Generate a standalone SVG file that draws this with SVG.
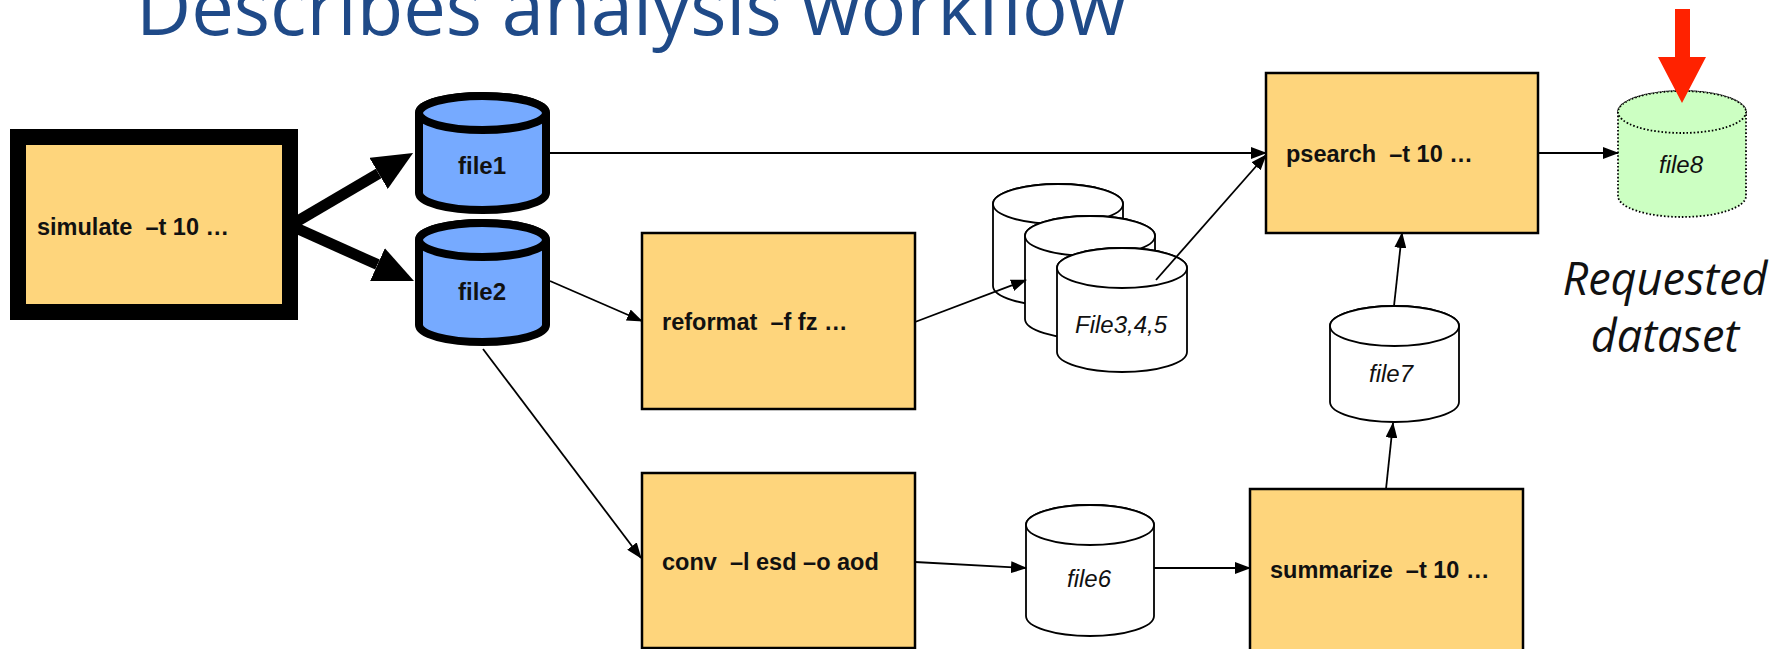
<svg xmlns="http://www.w3.org/2000/svg" width="1781" height="649" viewBox="0 0 1781 649">
  <defs>
    <style>
      .title { font-family: "Open Sans", "Liberation Sans", sans-serif; font-size: 76px; fill: #1F4A88; }
      .task { fill: #FED57C; stroke: #000; stroke-width: 2.5; }
      .cmd { font-family: "Liberation Sans", Arial, sans-serif; font-size: 23.5px; font-weight: bold; fill: #111; white-space: pre; }
      .blue { fill: #76AAFF; stroke: #000; stroke-width: 8; }
      .white { fill: #fff; stroke: #000; stroke-width: 1.8; }
      .green { fill: #CCFFC2; stroke: #000; stroke-width: 1.8; stroke-dasharray: 1.6 2; }
      .bold-lbl { font-family: "Liberation Sans", Arial, sans-serif; font-size: 24px; font-weight: bold; fill: #111; text-anchor: middle; }
      .ital-lbl { font-family: "Liberation Sans", Arial, sans-serif; font-size: 24px; font-style: italic; fill: #111; text-anchor: middle; }
      .link { fill: none; stroke: #000; stroke-width: 1.8; marker-end: url(#tip); }
      .fat { fill: none; stroke: #000; stroke-width: 11; marker-end: url(#fatTip); }
      .note { font-family: "Open Sans", "Liberation Sans", sans-serif; font-size: 45px; font-style: italic; fill: #111; text-anchor: middle; }
    </style>
    <marker id="tip" viewBox="0 0 16 12" refX="15" refY="6" markerWidth="16" markerHeight="12" markerUnits="userSpaceOnUse" orient="auto">
      <path d="M0,0 L16,6 L0,12 z" fill="#000"/>
    </marker>
    <marker id="fatTip" viewBox="0 0 40 36" refX="0" refY="18" markerWidth="40" markerHeight="36" markerUnits="userSpaceOnUse" orient="auto">
      <path d="M0,0 L40,18 L0,36 z" fill="#000"/>
    </marker>
  </defs>

  <rect width="1781" height="649" fill="#fff"/>

  <!-- slide heading, partly above the visible area -->
  <text class="title" x="136" y="35">Describes analysis workflow</text>

  <g id="simulate">
    <rect x="18" y="137" width="272" height="175" fill="#FED57C" stroke="#000" stroke-width="16"/>
    <text class="cmd" x="37" y="235" xml:space="preserve">simulate  –t 10 …</text>
  </g>

  <g id="file1">
    <path class="blue" d="M419,113 L419,193 A63.5,17 0 0 0 546,193 L546,113 A63.5,17 0 0 0 419,113 Z"/>
    <ellipse class="blue" cx="482.5" cy="113" rx="63.5" ry="17"/>
    <text class="bold-lbl" x="482" y="174">file1</text>
  </g>

  <g id="file2">
    <path class="blue" d="M419,240 L419,325 A63.5,17 0 0 0 546,325 L546,240 A63.5,17 0 0 0 419,240 Z"/>
    <ellipse class="blue" cx="482.5" cy="240" rx="63.5" ry="17"/>
    <text class="bold-lbl" x="482" y="300">file2</text>
  </g>

  <g id="reformat">
    <rect class="task" x="642" y="233" width="273" height="176"/>
    <text class="cmd" x="662" y="330" xml:space="preserve">reformat  –f fz …</text>
  </g>

  <g id="conv">
    <rect class="task" x="642" y="473" width="273" height="175"/>
    <text class="cmd" x="662" y="570" xml:space="preserve">conv  –l esd –o aod</text>
  </g>

  <g id="file345">
    <path class="white" d="M993,204 L993,286 A65,20 0 0 0 1123,286 L1123,204 A65,20 0 0 0 993,204 Z"/>
    <ellipse class="white" cx="1058" cy="204" rx="65" ry="20"/>
    <path class="white" d="M1025,236 L1025,319 A65,20 0 0 0 1155,319 L1155,236 A65,20 0 0 0 1025,236 Z"/>
    <ellipse class="white" cx="1090" cy="236" rx="65" ry="20"/>
    <path class="white" d="M1057,268 L1057,352 A65,20 0 0 0 1187,352 L1187,268 A65,20 0 0 0 1057,268 Z"/>
    <ellipse class="white" cx="1122" cy="268" rx="65" ry="20"/>
    <text class="ital-lbl" x="1121" y="333">File3,4,5</text>
  </g>

  <g id="file6">
    <path class="white" d="M1026,525 L1026,616 A64,20 0 0 0 1154,616 L1154,525 A64,20 0 0 0 1026,525 Z"/>
    <ellipse class="white" cx="1090" cy="525" rx="64" ry="20"/>
    <text class="ital-lbl" x="1089" y="587">file6</text>
  </g>

  <g id="summarize">
    <rect class="task" x="1250" y="489" width="273" height="175"/>
    <text class="cmd" x="1270" y="578" xml:space="preserve">summarize  –t 10 …</text>
  </g>

  <g id="file7">
    <path class="white" d="M1330,326 L1330,402 A64.5,20 0 0 0 1459,402 L1459,326 A64.5,20 0 0 0 1330,326 Z"/>
    <ellipse class="white" cx="1394.5" cy="326" rx="64.5" ry="20"/>
    <text class="ital-lbl" x="1391" y="382">file7</text>
  </g>

  <g id="psearch">
    <rect class="task" x="1266" y="73" width="272" height="160"/>
    <text class="cmd" x="1286" y="162" xml:space="preserve">psearch  –t 10 …</text>
  </g>

  <g id="file8">
    <path class="green" d="M1618,112 L1618,196 A64,21 0 0 0 1746,196 L1746,112 A64,21 0 0 0 1618,112 Z"/>
    <ellipse class="green" cx="1682" cy="112" rx="64" ry="21"/>
    <text class="ital-lbl" x="1681" y="173">file8</text>
  </g>

  <!-- connectors, drawn over the nodes -->
  <g id="connectors">
    <path class="fat" d="M296,222 L378.6,173.4"/>
    <path class="fat" d="M296,228 L377.5,264.6"/>
    <path class="link" d="M550,153 L1266,153"/>
    <path class="link" d="M550,281 L642,321"/>
    <path class="link" d="M483,349 L641,558"/>
    <path class="link" d="M915,322 L1026,280"/>
    <path class="link" d="M1156,280 L1266,155"/>
    <path class="link" d="M1538,153 L1618,153"/>
    <path class="link" d="M915,562 L1026,568"/>
    <path class="link" d="M1154,568 L1250,568"/>
    <path class="link" d="M1386,489 L1393,423"/>
    <path class="link" d="M1394,306 L1402,233"/>
  </g>

  <!-- highlight pointer onto the requested output -->
  <g id="pointer">
    <polygon points="1675,9 1690,9 1690,57 1706,57 1682,103 1658,57 1675,57" fill="#FF2200"/>
  </g>

  <g id="requested">
    <text class="note" x="1665" y="295">Requested</text>
    <text class="note" x="1665" y="352">dataset</text>
  </g>
</svg>
